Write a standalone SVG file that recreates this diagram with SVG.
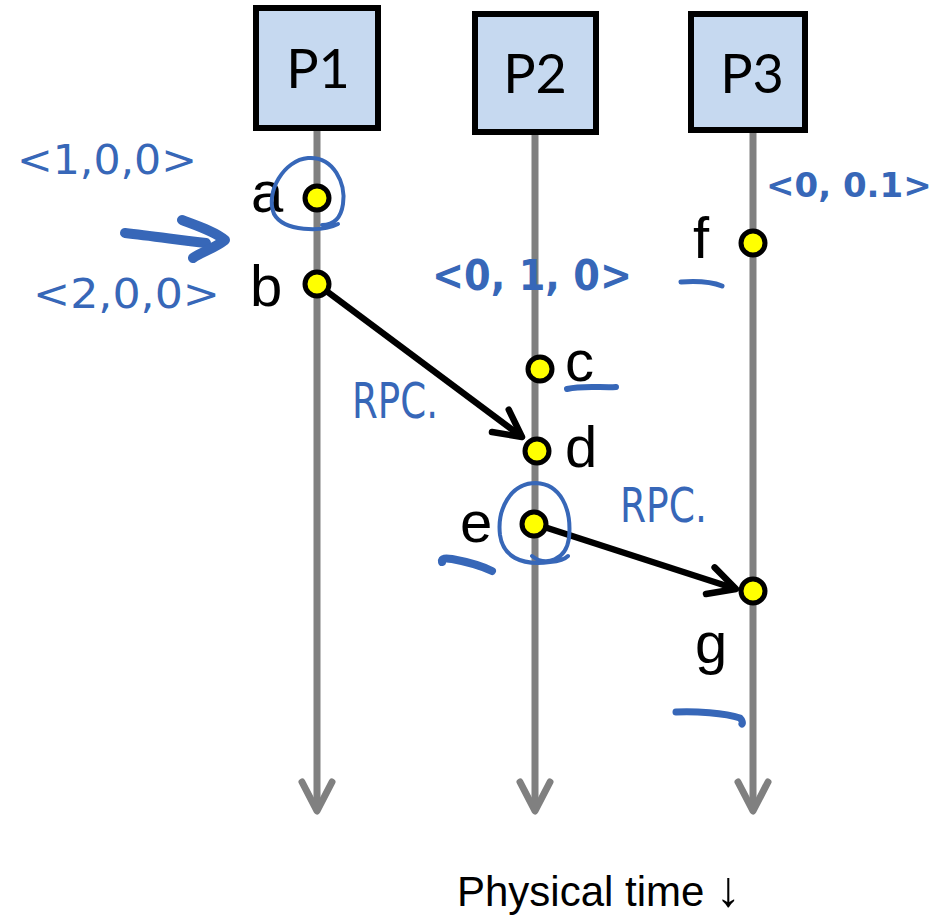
<svg xmlns="http://www.w3.org/2000/svg" width="943" height="919" viewBox="0 0 943 919">
  <style>
    .box { fill: #c6d9f0; stroke: #000; stroke-width: 6; }
    .ptitle { font-family: Lato, "Noto Sans", sans-serif; font-size: 54px; fill: #000; text-anchor: middle; }
    .life { stroke: #808080; stroke-width: 7; fill: none; }
    .msg { stroke: #000; stroke-width: 6.5; fill: none; }
    .dot { fill: #ffff00; stroke: #000; stroke-width: 5; }
    .lbl { font-family: "Liberation Sans", Arial, sans-serif; font-size: 58px; fill: #000; }
    .note { font-family: "DejaVu Sans", "Noto Sans", sans-serif; fill: #3767b8; }
    .ink { fill: none; stroke: #3767b8; stroke-linecap: round; stroke-linejoin: round; }
    .caption { font-family: "Liberation Sans", Arial, sans-serif; font-size: 42px; fill: #000; }
  </style>
  <defs>
    <marker id="headBlack" markerUnits="userSpaceOnUse" viewBox="-40 -25 50 50" markerWidth="50" markerHeight="50" refX="0" refY="0" orient="auto" overflow="visible">
      <path d="M-27,-14 L0,0 L-27,14" fill="none" stroke="#000" stroke-width="6.5" stroke-linecap="round" stroke-linejoin="round"/>
    </marker>
    <marker id="headGray" markerUnits="userSpaceOnUse" viewBox="-40 -25 50 50" markerWidth="50" markerHeight="50" refX="0" refY="0" orient="auto" overflow="visible">
      <path d="M-29,-15 L0,0 L-29,15" fill="none" stroke="#808080" stroke-width="7" stroke-linecap="round" stroke-linejoin="round"/>
    </marker>
  </defs>

  <rect width="943" height="919" fill="#fff"/>

  <!-- process lifelines (time runs downward) -->
  <g id="lifelines">
    <line class="life" x1="317" y1="131" x2="317" y2="811" marker-end="url(#headGray)"/>
    <line class="life" x1="535" y1="135" x2="535" y2="811" marker-end="url(#headGray)"/>
    <line class="life" x1="753" y1="133" x2="753" y2="811" marker-end="url(#headGray)"/>
  </g>

  <!-- process headers -->
  <g id="P1">
    <rect class="box" x="256" y="8" width="122" height="120"/>
    <text class="ptitle" x="318" y="88">P1</text>
  </g>
  <g id="P2">
    <rect class="box" x="475" y="14" width="121" height="118"/>
    <text class="ptitle" x="535" y="93">P2</text>
  </g>
  <g id="P3">
    <rect class="box" x="691" y="14" width="114" height="116"/>
    <text class="ptitle" x="752" y="93">P3</text>
  </g>

  <!-- messages between processes -->
  <g id="connectors">
    <line class="msg" x1="317" y1="284" x2="522" y2="437" marker-end="url(#headBlack)"/>
    <line class="msg" x1="535" y1="524" x2="736" y2="589" marker-end="url(#headBlack)"/>
  </g>

  <!-- events -->
  <g id="a">
    <circle class="dot" cx="317" cy="198" r="12"/>
    <text class="lbl" x="251" y="212">a</text>
  </g>
  <g id="b">
    <circle class="dot" cx="317" cy="284" r="12"/>
    <text class="lbl" x="250" y="306">b</text>
  </g>
  <g id="c">
    <circle class="dot" cx="540" cy="369" r="12"/>
    <text class="lbl" x="565" y="381">c</text>
  </g>
  <g id="d">
    <circle class="dot" cx="537" cy="451" r="12"/>
    <text class="lbl" x="565" y="467">d</text>
  </g>
  <g id="e">
    <circle class="dot" cx="534" cy="524" r="12"/>
    <text class="lbl" x="460" y="542">e</text>
  </g>
  <g id="f">
    <circle class="dot" cx="753" cy="243" r="12"/>
    <text class="lbl" x="693" y="258">f</text>
  </g>
  <g id="g">
    <circle class="dot" cx="753" cy="591" r="12"/>
    <text class="lbl" x="695" y="663">g</text>
  </g>

  <!-- handwritten annotations -->
  <g id="notes">
    <text class="note" x="17" y="174" font-size="40" textLength="180" lengthAdjust="spacingAndGlyphs">&lt;1,0,0&gt;</text>
    <text class="note" x="33" y="308" font-size="40" textLength="187" lengthAdjust="spacingAndGlyphs">&lt;2,0,0&gt;</text>
    <text class="note" x="432" y="290" font-size="42" font-weight="bold" textLength="200" lengthAdjust="spacingAndGlyphs">&lt;0, 1, 0&gt;</text>
    <text class="note" x="766" y="197" font-size="34" font-weight="bold">&lt;0, 0.1&gt;</text>
    <text class="note" x="352" y="418" font-size="50" textLength="86" lengthAdjust="spacingAndGlyphs">RPC.</text>
    <text class="note" x="620" y="522" font-size="48" textLength="87" lengthAdjust="spacingAndGlyphs">RPC.</text>

    <!-- ring round a -->
    <path class="ink" stroke-width="4" d="M338,224 C322,232 284,232 274,214 C265,192 284,160 308,158 C334,156 346,184 343,204 C341,218 334,225 322,225"/>
    <!-- ring round e -->
    <path class="ink" stroke-width="4" d="M532,556 C546,567 566,560 569,538 C572,508 560,484 536,483 C510,483 497,510 500,535 C503,556 520,566 550,562 C560,561 566,558 568,556"/>
    <!-- arrow pointing at a -->
    <path class="ink" stroke-width="10" d="M125,233 C152,236 180,240 206,243"/>
    <path class="ink" stroke-width="10" d="M182,220 C198,226 216,232 225,240 C215,248 202,252 193,258"/>
    <!-- underline strokes -->
    <path class="ink" stroke-width="5" d="M681,282 C695,281 712,282 722,286"/>
    <path class="ink" stroke-width="6" d="M567,389 C584,385 602,388 616,387"/>
    <path class="ink" stroke-width="8" d="M442,562 C441,558 446,558 452,559 C468,562 482,566 492,571"/>
    <path class="ink" stroke-width="7" d="M676,712 C695,711 725,713 740,718 C742,720 743,723 742,724"/>
  </g>

  <text class="caption" x="457" y="906">Physical time <tspan font-size="50">↓</tspan></text>
</svg>
